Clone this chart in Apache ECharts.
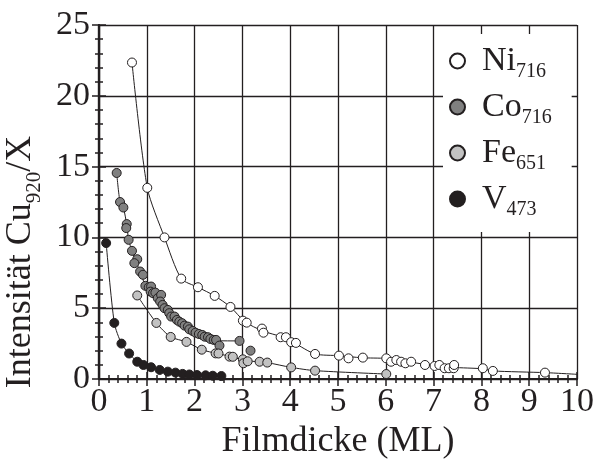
<!DOCTYPE html>
<html>
<head>
<meta charset="utf-8">
<script src="https://cdn.jsdelivr.net/npm/echarts@6/dist/echarts.min.js"></script>
<style>
  html, body { margin: 0; padding: 0; background: #fff; }
  #chart { width: 597px; height: 465px; }
</style>
</head>
<body>
<div id="chart"></div>
<script>
// Measured intensities [film thickness (ML), Cu920/X ratio]
const niPoints = [
  [0.69, 22.35], [1.01, 13.5], [1.37, 10.0], [1.72, 7.09], [2.07, 6.48], [2.42, 5.87],
  [2.75, 5.09], [3.01, 4.12], [3.09, 3.98], [3.41, 3.56], [3.44, 3.27], [3.80, 2.95],
  [3.91, 2.95], [4.02, 2.60], [4.12, 2.55], [4.52, 1.77], [5.02, 1.65], [5.22, 1.46],
  [5.52, 1.51], [6.01, 1.46], [6.11, 1.22], [6.22, 1.34], [6.32, 1.22], [6.41, 1.11],
  [6.53, 1.22], [6.82, 0.99], [7.02, 0.92], [7.12, 0.99], [7.23, 0.76], [7.32, 0.76],
  [7.42, 0.76], [7.43, 0.99], [8.03, 0.76], [8.24, 0.57], [9.33, 0.45]
];
const coPoints = [
  [0.37, 14.55], [0.44, 12.5], [0.51, 12.11], [0.58, 10.94], [0.57, 10.66], [0.62, 9.83],
  [0.69, 9.05], [0.80, 8.46], [0.74, 8.18], [0.86, 7.59], [0.92, 7.36], [0.97, 6.58],
  [1.04, 6.48], [1.09, 6.53], [1.08, 6.17], [1.13, 6.06], [1.18, 6.10], [1.23, 5.71],
  [1.30, 5.94], [1.28, 5.47], [1.33, 5.23], [1.37, 5.00], [1.44, 4.88], [1.47, 4.65],
  [1.51, 4.41], [1.58, 4.41], [1.63, 4.17], [1.68, 4.05], [1.74, 3.94], [1.79, 3.77],
  [1.86, 3.70], [1.89, 3.51], [1.96, 3.39], [2.02, 3.27], [2.09, 3.18], [2.16, 3.11],
  [2.21, 2.99], [2.28, 2.95], [2.33, 2.83], [2.40, 2.76], [2.45, 2.76], [2.52, 2.36],
  [2.94, 2.69], [3.17, 2.00]
];
const fePoints = [
  [0.80, 5.90], [1.20, 3.96], [1.50, 2.97], [1.83, 2.62], [2.15, 2.07], [2.44, 1.81],
  [2.50, 1.80], [2.73, 1.58], [2.80, 1.57], [3.01, 1.39], [3.02, 1.11], [3.11, 1.25],
  [3.36, 1.22], [3.52, 1.16], [4.02, 0.82], [4.52, 0.59], [6.01, 0.35]
];
const vPoints = [
  [0.15, 9.60], [0.32, 3.96], [0.47, 2.50], [0.63, 1.80], [0.80, 1.22], [0.93, 0.99],
  [1.09, 0.83], [1.27, 0.64], [1.44, 0.52], [1.60, 0.45], [1.75, 0.36], [1.89, 0.32],
  [2.05, 0.28], [2.23, 0.26], [2.38, 0.23], [2.56, 0.21]
];

// Guide curves drawn through each data set
const niCurve = [
  [0.69, 22.35], [1.01, 13.5], [1.37, 10.0], [1.72, 7.09], [2.07, 6.48], [2.42, 5.87],
  [2.75, 5.09], [3.05, 4.05], [3.42, 3.40], [3.85, 2.95], [4.07, 2.58], [4.52, 1.77],
  [5.02, 1.65], [5.50, 1.50], [6.00, 1.45], [6.50, 1.20], [7.00, 0.95], [7.40, 0.82],
  [8.03, 0.72], [8.24, 0.57], [9.33, 0.45], [10.0, 0.33]
];
const coCurve = [
  [0.37, 14.55], [0.44, 12.5], [0.51, 12.1], [0.58, 10.9], [0.62, 9.83], [0.69, 9.05],
  [0.77, 8.3], [0.86, 7.6], [0.97, 6.6], [1.10, 6.1], [1.30, 5.5], [1.50, 4.6],
  [1.70, 4.05], [1.90, 3.5], [2.10, 3.15], [2.30, 2.9], [2.50, 2.7], [2.94, 2.69]
];
const feCurve = [
  [0.80, 5.90], [1.20, 3.96], [1.50, 2.97], [1.83, 2.62], [2.15, 2.07], [2.47, 1.80],
  [2.77, 1.58], [3.05, 1.30], [3.36, 1.22], [3.52, 1.16], [4.02, 0.82], [4.52, 0.59],
  [6.01, 0.35]
];
const vCurve = vPoints;

const legendNames = ['Ni', 'Co', 'Fe', 'V'];
const legendSubs = ['716', '716', '651', '473'];
const xTicks = [0, 1, 2, 3, 4, 5, 6, 7, 8, 9, 10];
const yTicks = [0, 5, 10, 15, 20, 25];

const INK = '#231f20';
const FONT = 'Liberation Serif';

const chart = echarts.init(document.getElementById('chart'), null, { renderer: 'canvas' });

function scatter(name, data, fill) {
  return {
    name, type: 'scatter', data, z: 5,
    symbol: 'circle', symbolSize: 9,
    itemStyle: { color: fill, borderColor: INK, borderWidth: 1, opacity: 1 }
  };
}
function curve(data) {
  return {
    type: 'line', data, z: 3, silent: true, symbol: 'none', smooth: 0.25,
    lineStyle: { color: INK, width: 1 }, legendHoverLink: false
  };
}

const frameAxisLine = { show: true, lineStyle: { color: INK, width: 2.2 } };
const majorTick = { show: true, inside: true, length: 7, lineStyle: { color: INK, width: 1.5 } };
const minorTick = { show: true, splitNumber: 5, length: 4, lineStyle: { color: INK, width: 1.5 } };

const option = {
  backgroundColor: '#ffffff',
  animation: false,
  textStyle: { fontFamily: FONT },
  grid: { left: 99, right: 20, top: 25, bottom: 86, containLabel: false, outerBoundsMode: 'none' },
  legend: {
    orient: 'vertical', left: 443, top: 34,
    width: 115,
    backgroundColor: '#ffffff',
    padding: [10, 20, 12, 6],
    itemGap: 8,
    itemWidth: 15, itemHeight: 15,
    icon: 'circle',
    data: legendNames,
    formatter: function (n) {
      const i = legendNames.indexOf(n);
      return '{m|' + n + '}{s|' + legendSubs[i] + '}';
    },
    textStyle: {
      fontFamily: FONT, color: INK,
      rich: {
        m: { fontFamily: FONT, fontSize: 34, color: INK, lineHeight: 32, padding: [0, 0, 0, 12] },
        s: { fontFamily: FONT, fontSize: 20, color: INK, lineHeight: 42, verticalAlign: 'bottom' }
      }
    }
  },
  xAxis: [{
    type: 'value', min: 0, max: 10, interval: 1,
    name: 'Filmdicke (ML)', nameLocation: 'middle', nameGap: 44,
    nameTextStyle: { fontFamily: FONT, fontSize: 36, color: INK },
    axisLine: frameAxisLine, axisTick: majorTick, minorTick: minorTick,
    axisLabel: {
      fontFamily: FONT, fontSize: 34, color: INK, margin: 6,
      formatter: v => (xTicks.indexOf(v) >= 0 ? String(v) : '')
    },
    splitLine: { show: true, lineStyle: { color: INK, width: 1.3 } }
  }, {
    type: 'value', min: 0, max: 10, interval: 1, position: 'top',
    axisLine: frameAxisLine, axisTick: majorTick, minorTick: minorTick,
    axisLabel: { show: false }, splitLine: { show: false }
  }],
  yAxis: [{
    type: 'value', min: 0, max: 25, interval: 5,
    name: '{a|Intensität Cu}{s|920}{a|/X}', nameLocation: 'middle', nameGap: 45,
    nameTextStyle: {
      fontFamily: FONT, color: INK,
      padding: [0, 120, 0, 0],
      rich: {
        a: { fontFamily: FONT, fontSize: 36, color: INK, lineHeight: 36 },
        s: { fontFamily: FONT, fontSize: 21, color: INK, lineHeight: 50, verticalAlign: 'bottom' }
      }
    },
    axisLine: frameAxisLine, axisTick: majorTick,
    minorTick: { show: true, splitNumber: 5, length: 4, lineStyle: { color: INK, width: 1.5 } },
    axisLabel: {
      fontFamily: FONT, fontSize: 34, color: INK, margin: 9,
      formatter: v => (yTicks.indexOf(v) >= 0 ? String(v) : '')
    },
    splitLine: { show: true, lineStyle: { color: INK, width: 1.3 } }
  }, {
    type: 'value', min: 0, max: 25, interval: 5, position: 'right',
    axisLine: frameAxisLine, axisTick: majorTick,
    minorTick: { show: true, splitNumber: 5, length: 4, lineStyle: { color: INK, width: 1.5 } },
    axisLabel: { show: false }, splitLine: { show: false }
  }],
  series: [
    curve(niCurve), curve(coCurve), curve(feCurve), curve(vCurve),
    scatter('Ni', niPoints, '#ffffff'),
    scatter('Co', coPoints, '#808080'),
    scatter('Fe', fePoints, '#c2c2c2'),
    scatter('V', vPoints, INK)
  ]
};

chart.setOption(option);
</script>
</body>
</html>
